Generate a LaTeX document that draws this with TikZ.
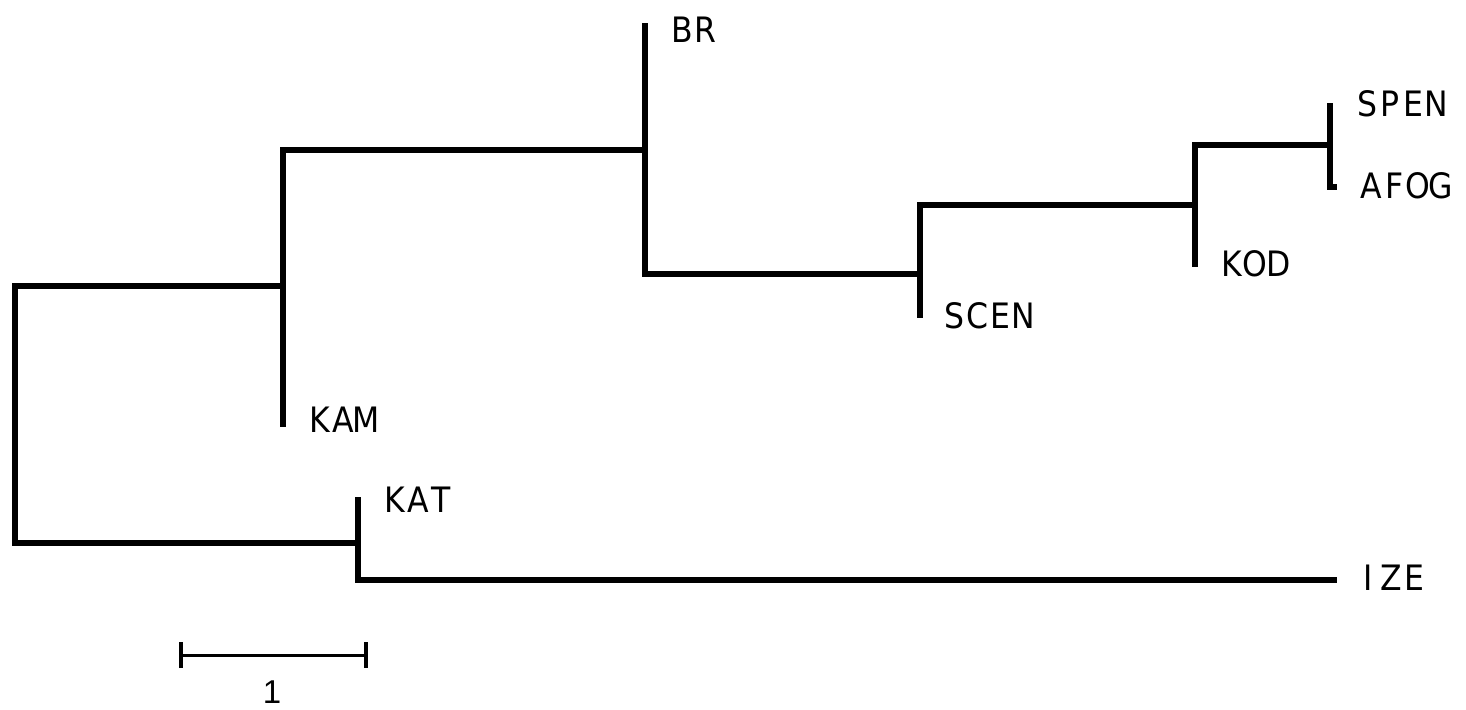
\documentclass[tikz,border=0pt]{standalone}
\usepackage{fontspec}
\newfontfamily\tipfont[FakeStretch=0.9]{DejaVu Sans}
\newfontfamily\barfont{Liberation Sans}
\usetikzlibrary{positioning}
\usetikzlibrary{arrows.meta}
\ExplSyntaxOn
\NewDocumentCommand\cells{m}{\tl_map_inline:nn{#1}{\makebox[11.6pt][c]{##1}}}
\ExplSyntaxOff

\begin{document}
\begin{tikzpicture}[x=0.5pt, y=-0.5pt,
  branch/.style={line width=3pt},
  taxon/.style={inner sep=0pt, anchor=west, text height=12.8pt, text depth=0pt, font=\tipfont\fontsize{17.5pt}{20pt}\selectfont},
  scalebar/.style={line width=1.5pt, {Bar[width=13pt,line width=2pt]}-{Bar[width=13pt,line width=2pt]}},
  scalelab/.style={inner sep=0pt, text height=11.8pt, text depth=0pt, font=\barfont\fontsize{16.5pt}{19pt}\selectfont}]
\useasboundingbox (0,0) rectangle (1466,709);

\coordinate (root) at (15,414);
\coordinate (nA) at (283,286);
\coordinate (nF) at (358,543);
\coordinate (nB) at (645,150);
\coordinate (nC) at (920,274);
\coordinate (nD) at (1195,205);
\coordinate (nE) at (1330,145);
\coordinate (tBR) at (645,23);
\coordinate (tKAM) at (283,427);
\coordinate (tKAT) at (358,497);
\coordinate (tIZE) at (1337,580);
\coordinate (tSCEN) at (920,318);
\coordinate (tKOD) at (1195,267);
\coordinate (tSPEN) at (1330,103);
\coordinate (tAFOG) at (1337,187);

\draw[branch] (root) |- (nA);
\draw[branch] (root) |- (nF);
\draw[branch] (nA) |- (nB);
\draw[branch] (nA) -- (tKAM);
\draw[branch] (nF) -- (tKAT);
\draw[branch] (nF) |- (tIZE);
\draw[branch] (nB) -- (tBR);
\draw[branch] (nB) |- (nC);
\draw[branch] (nC) |- (nD);
\draw[branch] (nC) -- (tSCEN);
\draw[branch] (nD) |- (nE);
\draw[branch] (nD) -- (tKOD);
\draw[branch] (nE) -- (tSPEN);
\draw[branch] (nE) |- (tAFOG);

\node[taxon] (lBR) at (670,30) {\cells{BR}};
\node[taxon] (lSPEN) at (1355,104) {\cells{SPEN}};
\node[taxon] (lAFOG) at (1359,186) {\cells{AFOG}};
\node[taxon] (lKOD) at (1220,264) {\cells{KOD}};
\node[taxon] (lSCEN) at (942,316) {\cells{SCEN}};
\node[taxon] (lKAM) at (308,420) {\cells{KAM}};
\node[taxon] (lKAT) at (383,500) {\cells{KAT}};
\node[taxon] (lIZE) at (1356,578) {\cells{IZE}};

\coordinate (s0) at (179,655);
\coordinate (s1) at (368,655);
\draw[scalebar] (s0) -- (s1);
\node[scalelab] (sLab) at (272,692) {1};
\end{tikzpicture}
\end{document}
